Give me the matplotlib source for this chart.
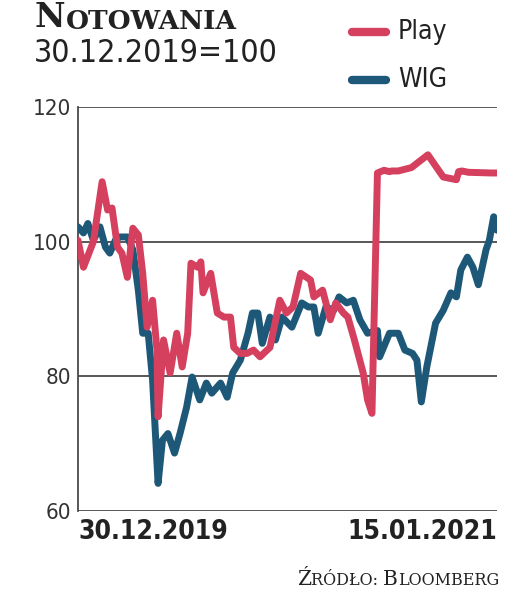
import matplotlib
matplotlib.use("Agg")
import matplotlib.pyplot as plt

# day offsets from 30.12.2019 and index values
play_days = [0, 5, 14, 22, 27, 31, 36, 40, 45, 50, 55, 59, 63, 68, 72, 73, 78,
             84, 90, 95, 100, 103, 109, 112, 114, 121, 127, 133, 139, 142, 148,
             154, 160, 166, 175, 184, 190, 196, 203, 212, 215, 223, 230, 235,
             242, 246, 252, 260, 264, 268, 273, 279, 284, 286, 292, 304, 319,
             333, 345, 347, 350, 356, 377, 382]
play_vals = [100.2, 96.2, 100.0, 108.9, 104.7, 105.0, 99.2, 98.3, 94.7, 102.0,
             101.0, 95.3, 87.3, 91.3, 83.9, 74.0, 85.4, 80.5, 86.4, 81.4, 86.4,
             96.8, 96.2, 97.0, 92.4, 95.3, 89.4, 88.8, 88.8, 84.3, 83.4, 83.4,
             83.9, 82.9, 84.3, 91.3, 89.4, 90.3, 95.3, 94.3, 91.8, 92.8, 88.4,
             90.9, 89.4, 88.8, 85.4, 80.5, 76.5, 74.5, 110.2, 110.6, 110.4,
             110.5, 110.5, 111.0, 112.9, 109.6, 109.2, 110.4, 110.5, 110.3,
             110.2, 110.2]

wig_days = [0, 5, 9, 14, 20, 25, 29, 34, 38, 45, 50, 55, 59, 64, 68, 73, 77,
            82, 88, 93, 99, 104, 111, 117, 122, 130, 136, 141, 148, 155, 159,
            164, 168, 175, 180, 186, 195, 204, 210, 215, 219, 226, 233, 238,
            245, 251, 257, 264, 273, 275, 284, 292, 298, 305, 309, 313, 318,
            326, 333, 340, 345, 349, 355, 360, 365, 372, 375, 379, 382]
wig_vals = [102.2, 101.3, 102.7, 100.2, 102.2, 99.2, 98.3, 100.2, 100.7, 100.7,
            98.8, 92.8, 86.4, 86.4, 79.4, 64.1, 70.5, 71.5, 68.6, 71.5, 75.4,
            79.9, 76.5, 79.0, 77.5, 79.0, 76.9, 80.5, 82.4, 86.4, 89.4, 89.4,
            84.9, 88.8, 85.4, 88.8, 87.3, 90.9, 90.3, 90.3, 86.4, 90.3, 89.8,
            91.8, 90.9, 91.3, 88.4, 86.4, 86.8, 82.9, 86.4, 86.4, 83.9, 83.4,
            82.4, 76.2, 81.4, 87.9, 89.8, 92.4, 91.8, 95.8, 97.7, 96.2, 93.6,
            98.8, 100.2, 103.7, 101.7]

y_ticks = [60, 80, 100, 120]
x_labels = ["30.12.2019", "15.01.2021"]

RED = "#d5405f"
BLUE = "#1e5878"
GRID = "#4a4a4a"
TXT = "#222222"
SERIF = ["DejaVu Serif", "Liberation Serif"]
COND = dict(family="DejaVu Sans", stretch="condensed")

fig = plt.figure(figsize=(5.22, 5.93), dpi=100)
ax = fig.add_axes([78 / 522, 82 / 593, 419 / 522, 404 / 593])

ax.plot(wig_days, wig_vals, color=BLUE, lw=5, solid_joinstyle="round",
        solid_capstyle="round", zorder=3)
ax.plot(play_days, play_vals, color=RED, lw=5, solid_joinstyle="round",
        solid_capstyle="round", zorder=4)

ax.set_xlim(0, 382)
ax.set_ylim(60, 120)
for v in y_ticks:
    ax.axhline(v, color=GRID, lw=1.3, zorder=1)
ax.set_yticks(y_ticks)
ax.set_yticklabels([str(v) for v in y_ticks], fontsize=16,
                   color="#333333", **COND)
ax.tick_params(axis="y", length=0, pad=5)
ax.set_xticks([])
for s in ["top", "right", "bottom"]:
    ax.spines[s].set_visible(False)
ax.spines["left"].set_color(GRID)
ax.spines["left"].set_linewidth(1.3)

# x end labels
fig.text(78 / 522, 1 - 519 / 593, x_labels[0], ha="left", va="top",
         fontsize=19, fontweight="bold", color=TXT, **COND)
fig.text(497 / 522, 1 - 519 / 593, x_labels[1], ha="right", va="top",
         fontsize=19, fontweight="bold", color=TXT, **COND)

# title in simulated small caps
t1 = fig.text(35 / 522, 1 - 27 / 593, "N", ha="left", va="baseline",
              family=SERIF, fontsize=24, fontweight="bold", color=TXT)
ax.annotate("OTOWANIA", xy=(1, 0), xycoords=t1, va="bottom", ha="left",
            family=SERIF, fontsize=19, fontweight="bold", color=TXT,
            annotation_clip=False)
fig.text(34 / 522, 1 - 62 / 593, "30.12.2019=100", ha="left",
         va="baseline", fontsize=23, color=TXT, **COND)

# legend
for yy, col, lab in [(32, RED, "Play"), (80, BLUE, "WIG")]:
    fig.add_artist(plt.Line2D([352 / 522, 386 / 522],
                              [1 - yy / 593, 1 - yy / 593],
                              color=col, lw=6, solid_capstyle="round"))
    fig.text(398 / 522, 1 - yy / 593, lab, ha="left", va="center",
             fontsize=19, color=TXT, **COND)

# source
s1 = fig.text(297 / 522, 1 - 585 / 593, "Ź", ha="left", va="baseline",
              family=SERIF, fontsize=14.5, color=TXT)
s2 = ax.annotate("RÓDŁO: ", xy=(1, 0), xycoords=s1, va="bottom", ha="left",
                 family=SERIF, fontsize=11.5, color=TXT, annotation_clip=False)
s3 = ax.annotate("B", xy=(1, 0), xycoords=s2, va="bottom", ha="left",
                 family=SERIF, fontsize=14.5, color=TXT, annotation_clip=False)
ax.annotate("LOOMBERG", xy=(1, 0), xycoords=s3, va="bottom", ha="left",
            family=SERIF, fontsize=11.5, color=TXT, annotation_clip=False)

fig.savefig("out.png", dpi=100)
